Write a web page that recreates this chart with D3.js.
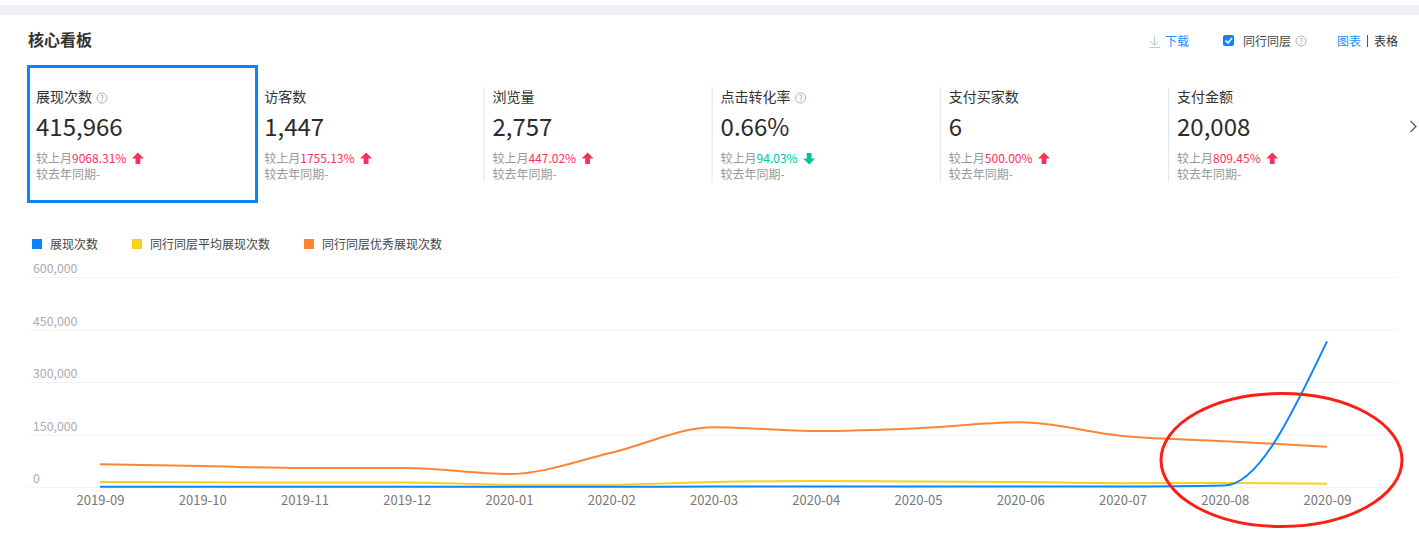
<!DOCTYPE html>
<html>
<head>
<meta charset="utf-8">
<script src="https://cdn.jsdelivr.net/npm/d3@7"></script>
<style>
  html, body { margin: 0; padding: 0; background: #fff; overflow: hidden; }
  text { font-family: "Noto Sans CJK SC", "Noto Sans", sans-serif; }
</style>
</head>
<body>
<script>
// Chart data
var months = ["2019-09","2019-10","2019-11","2019-12","2020-01","2020-02","2020-03","2020-04","2020-05","2020-06","2020-07","2020-08","2020-09"];
var selfValues = [600,600,700,800,900,1000,1100,1200,1300,1400,1500,4537,415966];
var avgValues = [14500,13500,13000,13000,6500,6500,14000,17000,15500,14000,11000,11500,9500];
var topValues = [65000,60000,54000,54000,37000,98000,171000,160000,168000,185000,146000,131000,115000];
var yTicks = [0,150000,300000,450000,600000];

var seriesNames = ["展现次数","同行同层平均展现次数","同行同层优秀展现次数"];
var seriesColors = ["#0a84ff","#f5d21f","#ff8534"];

// Metric cards
var cardNames = ["展现次数","访客数","浏览量","点击转化率","支付买家数","支付金额"];
var cardValues = ["415,966","1,447","2,757","0.66%","6","20,008"];
var cardChanges = ["9068.31%","1755.13%","447.02%","94.03%","500.00%","809.45%"];
var cardDirections = ["up","up","up","down","up","up"];
var cardHasHelp = [true,false,false,true,false,false];

var svgWidth = 1419;
var svgHeight = 547;

var svg = d3.select("body")
  .append("svg")
  .attr("width", svgWidth)
  .attr("height", svgHeight)
  .style("display", "block");

// Gray band along the top of the page
svg.append("rect")
  .attr("x", 0).attr("y", 5)
  .attr("width", svgWidth).attr("height", 10)
  .attr("fill", "#f0f1f6");

svg.append("text")
  .attr("x", 28).attr("y", 46)
  .attr("font-size", 16).attr("font-weight", 700)
  .attr("fill", "#333")
  .text("核心看板");

function helpIcon(x, y) {
  var g = svg.append("g").attr("transform", `translate(${x},${y})`);
  g.append("circle").attr("r", 5).attr("fill", "none").attr("stroke", "#a3b1cc").attr("stroke-width", 1);
  g.append("text").attr("y", 3).attr("text-anchor", "middle").attr("font-size", 8).attr("fill", "#8f9fbd").text("?");
}

// Header controls
var dl = svg.append("g").attr("fill", "none").attr("stroke", "#b9cbe0").attr("stroke-width", 1);
dl.append("path").attr("d", "M1154.5,36V45M1150.5,41.5L1154.5,45.5L1158.5,41.5M1149,47.5H1160");
svg.append("text").attr("x", 1165).attr("y", 46).attr("font-size", 12).attr("fill", "#1f8fff").text("下载");

svg.append("rect").attr("x", 1223).attr("y", 35).attr("width", 11).attr("height", 11).attr("rx", 2).attr("fill", "#0a84ff");
svg.append("path").attr("d", "M1225.5,40.5L1228,43L1232,38").attr("fill", "none").attr("stroke", "#fff").attr("stroke-width", 1.6);
svg.append("text").attr("x", 1243).attr("y", 46).attr("font-size", 12).attr("fill", "#444").text("同行同层");
helpIcon(1301, 41);
svg.append("text").attr("x", 1337).attr("y", 46).attr("font-size", 12).attr("fill", "#1f8fff").text("图表");
svg.append("path").attr("d", "M1367.5,35V47").attr("stroke", "#555").attr("stroke-width", 1);
svg.append("text").attr("x", 1374).attr("y", 46).attr("font-size", 12).attr("fill", "#333").text("表格");

// Cards
var cardX = d3.scaleLinear().domain([0, 5]).range([36, 1177]);

var cards = svg.selectAll(".card")
  .data(cardNames)
  .enter()
  .append("g")
  .attr("class", "card")
  .attr("transform", (d, i) => `translate(${cardX(i)},0)`);

cards.filter((d, i) => i > 0)
  .append("line")
  .attr("x1", -8.5).attr("x2", -8.5)
  .attr("y1", 87).attr("y2", 182)
  .attr("stroke", "#dde6f0");

cards.append("text").attr("y", 102).attr("font-size", 14).attr("fill", "#333").text(d => d);

cards.append("text").attr("y", 136).attr("font-size", 24).attr("fill", "#2b2b2b")
  .text((d, i) => cardValues[i]);

var changeRow = cards.append("text").attr("y", 163).attr("font-size", 12);
changeRow.append("tspan").attr("fill", "#999").text("较上月");
changeRow.append("tspan")
  .attr("fill", (d, i) => cardDirections[i] == "up" ? "#f5325c" : "#00c49a")
  .text((d, i) => cardChanges[i]);

cards.append("text").attr("y", 179).attr("font-size", 12).attr("fill", "#999").text("较去年同期-");

// Up or down arrow after each change figure
cards.each(function (d, i) {
  var w = d3.select(this).select("text:nth-of-type(3)").node().getComputedTextLength();
  var arrow = cardDirections[i] == "up"
    ? "M0,-6L6,0H2.4V5.5H-2.4V0H-6Z"
    : "M0,6L6,0H2.4V-5.5H-2.4V0H-6Z";
  d3.select(this).append("path")
    .attr("transform", `translate(${w + 11.5},158.5)`)
    .attr("d", arrow)
    .attr("fill", cardDirections[i] == "up" ? "#f5325c" : "#00c49a");
});

cardHasHelp.forEach(function (h, i) {
  if (h) {
    var w = cards.filter((d, j) => j == i).select("text").node().getComputedTextLength();
    helpIcon(cardX(i) + w + 10, 98);
  }
});

// Selected card frame
svg.append("rect")
  .attr("x", 28.5).attr("y", 66.5)
  .attr("width", 228).attr("height", 135)
  .attr("fill", "none")
  .attr("stroke", "#0a84ff").attr("stroke-width", 3);

svg.append("path")
  .attr("d", "M1410.5,121L1416,126.5L1410.5,132")
  .attr("fill", "none").attr("stroke", "#555").attr("stroke-width", 1.2);

// Legend
var legendSwatch = [32, 132, 304];
var legend = svg.selectAll(".legend")
  .data(seriesNames)
  .enter()
  .append("g")
  .attr("class", "legend")
  .attr("transform", (d, i) => `translate(${legendSwatch[i]},0)`);
legend.append("rect").attr("y", 239).attr("width", 10).attr("height", 10).attr("fill", (d, i) => seriesColors[i]);
legend.append("text").attr("x", 18).attr("y", 249).attr("font-size", 12).attr("fill", "#444").text(d => d);

// Scales
var xScale = d3.scalePoint().domain(months).range([100, 1327]);
var yScale = d3.scaleLinear().domain([0, 600000]).range([487, 277]);

// Y axis with gridlines
var leftAxis = d3.axisLeft(yScale)
  .tickValues(yTicks)
  .tickFormat(d3.format(","))
  .tickSize(0);

var yGroup = svg.append("g").attr("class", "leftAxis").call(leftAxis);
yGroup.select(".domain").remove();
yGroup.selectAll("line")
  .attr("x1", 28).attr("x2", 1398)
  .attr("stroke", "#f3f4fa");
yGroup.selectAll("text")
  .attr("x", 33).attr("dy", -4.5)
  .attr("text-anchor", "start")
  .attr("font-size", 12.3)
  .attr("fill", "#aaa")
  .style("font-family", "'Noto Sans CJK SC'");

// X axis labels only
var bottomAxis = d3.axisBottom(xScale).tickSize(0).tickPadding(9);
var xGroup = svg.append("g").attr("class", "bottomAxis")
  .attr("transform", "translate(0,487)")
  .call(bottomAxis);
xGroup.select(".domain").remove();
xGroup.selectAll("text")
  .attr("font-size", 13)
  .attr("fill", "#777")
  .style("font-family", "'Noto Sans CJK SC'");

// Lines
var line = d3.line()
  .x((d, i) => xScale(months[i]))
  .y(d => yScale(d))
  .curve(d3.curveMonotoneX);

[topValues, avgValues, selfValues].forEach(function (values, i) {
  svg.append("path")
    .datum(values)
    .attr("fill", "none")
    .attr("stroke", seriesColors[2 - i])
    .attr("stroke-width", 2)
    .attr("d", line);
});

// Hand-drawn red circle on the screenshot
svg.append("ellipse")
  .attr("cx", 1281.5).attr("cy", 460)
  .attr("rx", 120.5).attr("ry", 66.5)
  .attr("fill", "none")
  .attr("stroke", "#fa2014").attr("stroke-width", 3);
</script>
</body>
</html>
